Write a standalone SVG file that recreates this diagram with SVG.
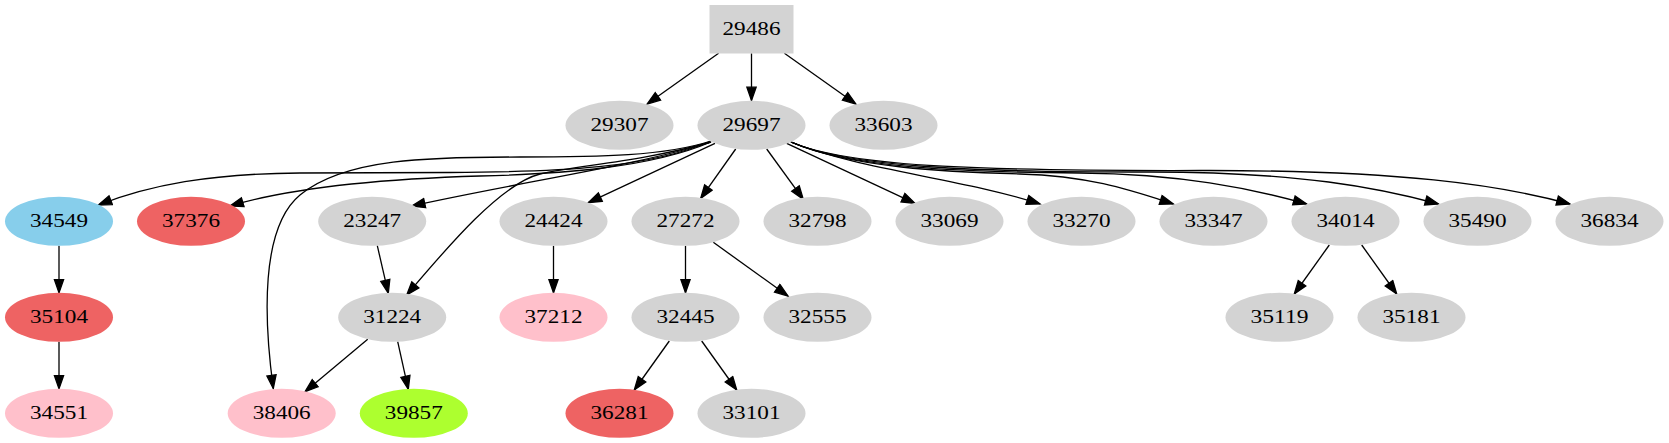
<svg xmlns="http://www.w3.org/2000/svg" width="1669" height="443" viewBox="0 0 1669 443">
<defs>
<style>
.n{stroke:none}
.g{fill:#d3d3d3}
.r{fill:#ee6363}
.p{fill:#ffc0cb}
.b{fill:#87ceeb}
.y{fill:#adff2f}
text{font-family:"Liberation Serif","Times New Roman",serif;font-size:19px;text-anchor:middle;fill:#000}
#edges path{fill:none;stroke:#000;stroke-width:1.3;marker-end:url(#ah)}
</style>
<marker id="ah" markerUnits="userSpaceOnUse" markerWidth="16" markerHeight="12" viewBox="-1 -1 16 12" refX="13.3" refY="4.65" orient="auto">
<path d="M0,0 L13.3,4.65 L0,9.3 z" fill="#000" stroke="#000" stroke-width="1.3"/>
</marker>
</defs>
<rect width="1669" height="443" fill="#fff"/>
<g id="edges">
<path d="M718.6,53.3 L647.1,104"/>
<path d="M751.5,53.3 L751.5,100.5"/>
<path d="M784.4,53.3 L855.9,104"/>
<path d="M711,141 C665,156 600,157 520,157 C430,157 345,158 300,195 C260,228 264,320 273.3,388.5"/>
<path d="M711,141 C650,168 560,172 450,172.5 L300,173 C210,173.5 150,185 98.3,205"/>
<path d="M711,142 C650,168 560,174 480,176 C380,179 290,188 230,206"/>
<path d="M711,142 C640,165 520,182 411.7,206"/>
<path d="M711,142 C640,162 580,165 540,174 C500,184 445,250 406.7,295"/>
<path d="M715,143.3 L588.3,202.7"/>
<path d="M735.7,149 L700.7,198.3"/>
<path d="M766.7,149 L803.3,199.3"/>
<path d="M786.7,143.3 L915,203.3"/>
<path d="M791,142 C860,170 960,178 1040,204"/>
<path d="M791,142 C850,168 950,172 1020,174 C1090,176 1130,190 1173.3,204"/>
<path d="M791,142 C850,168 960,172 1080,173 C1180,174 1250,188 1306.7,204"/>
<path d="M791,142 C850,168 980,172 1150,172 C1300,172 1380,188 1438.5,204"/>
<path d="M791,142 C850,168 1000,171 1200,170.5 C1400,170 1500,185 1570,204"/>
<path d="M59,245.8 L59,292.8"/>
<path d="M59,341.8 L59,388.8"/>
<path d="M377.3,245.7 L388.3,293.3"/>
<path d="M367.7,339.3 L305,391.7"/>
<path d="M397.7,341.7 L408.3,389.3"/>
<path d="M553.5,245.8 L553.5,292.8"/>
<path d="M685.5,245.8 L685.5,292.8"/>
<path d="M713.3,242.3 L788,296"/>
<path d="M669.3,341 L634.3,390"/>
<path d="M701.7,341 L736.7,390"/>
<path d="M1329.3,245 L1294.3,294"/>
<path d="M1361.7,245 L1396.7,294"/>
</g>
<g id="n29486"><rect class="n g" x="709.5" y="5" width="84" height="48.5"/><text x="751.5" y="34.5" textLength="58" lengthAdjust="spacingAndGlyphs">29486</text></g>
<g id="n29307"><ellipse class="n g" cx="619.5" cy="125.3" rx="54" ry="24.5"/><text x="619.5" y="130.5" textLength="58" lengthAdjust="spacingAndGlyphs">29307</text></g>
<g id="n29697"><ellipse class="n g" cx="751.5" cy="125.3" rx="54" ry="24.5"/><text x="751.5" y="130.5" textLength="58" lengthAdjust="spacingAndGlyphs">29697</text></g>
<g id="n33603"><ellipse class="n g" cx="883.5" cy="125.3" rx="54" ry="24.5"/><text x="883.5" y="130.5" textLength="58" lengthAdjust="spacingAndGlyphs">33603</text></g>
<g id="n34549"><ellipse class="n b" cx="59" cy="221.3" rx="54" ry="24.5"/><text x="59" y="226.5" textLength="58" lengthAdjust="spacingAndGlyphs">34549</text></g>
<g id="n37376"><ellipse class="n r" cx="191" cy="221.3" rx="54" ry="24.5"/><text x="191" y="226.5" textLength="58" lengthAdjust="spacingAndGlyphs">37376</text></g>
<g id="n23247"><ellipse class="n g" cx="372.2" cy="221.3" rx="54" ry="24.5"/><text x="372.2" y="226.5" textLength="58" lengthAdjust="spacingAndGlyphs">23247</text></g>
<g id="n24424"><ellipse class="n g" cx="553.5" cy="221.3" rx="54" ry="24.5"/><text x="553.5" y="226.5" textLength="58" lengthAdjust="spacingAndGlyphs">24424</text></g>
<g id="n27272"><ellipse class="n g" cx="685.5" cy="221.3" rx="54" ry="24.5"/><text x="685.5" y="226.5" textLength="58" lengthAdjust="spacingAndGlyphs">27272</text></g>
<g id="n32798"><ellipse class="n g" cx="817.5" cy="221.3" rx="54" ry="24.5"/><text x="817.5" y="226.5" textLength="58" lengthAdjust="spacingAndGlyphs">32798</text></g>
<g id="n33069"><ellipse class="n g" cx="949.5" cy="221.3" rx="54" ry="24.5"/><text x="949.5" y="226.5" textLength="58" lengthAdjust="spacingAndGlyphs">33069</text></g>
<g id="n33270"><ellipse class="n g" cx="1081.5" cy="221.3" rx="54" ry="24.5"/><text x="1081.5" y="226.5" textLength="58" lengthAdjust="spacingAndGlyphs">33270</text></g>
<g id="n33347"><ellipse class="n g" cx="1213.5" cy="221.3" rx="54" ry="24.5"/><text x="1213.5" y="226.5" textLength="58" lengthAdjust="spacingAndGlyphs">33347</text></g>
<g id="n34014"><ellipse class="n g" cx="1345.5" cy="221.3" rx="54" ry="24.5"/><text x="1345.5" y="226.5" textLength="58" lengthAdjust="spacingAndGlyphs">34014</text></g>
<g id="n35490"><ellipse class="n g" cx="1477.5" cy="221.3" rx="54" ry="24.5"/><text x="1477.5" y="226.5" textLength="58" lengthAdjust="spacingAndGlyphs">35490</text></g>
<g id="n36834"><ellipse class="n g" cx="1609.5" cy="221.3" rx="54" ry="24.5"/><text x="1609.5" y="226.5" textLength="58" lengthAdjust="spacingAndGlyphs">36834</text></g>
<g id="n35104"><ellipse class="n r" cx="59" cy="317.3" rx="54" ry="24.5"/><text x="59" y="322.5" textLength="58" lengthAdjust="spacingAndGlyphs">35104</text></g>
<g id="n31224"><ellipse class="n g" cx="392.2" cy="317.3" rx="54" ry="24.5"/><text x="392.2" y="322.5" textLength="58" lengthAdjust="spacingAndGlyphs">31224</text></g>
<g id="n37212"><ellipse class="n p" cx="553.5" cy="317.3" rx="54" ry="24.5"/><text x="553.5" y="322.5" textLength="58" lengthAdjust="spacingAndGlyphs">37212</text></g>
<g id="n32445"><ellipse class="n g" cx="685.5" cy="317.3" rx="54" ry="24.5"/><text x="685.5" y="322.5" textLength="58" lengthAdjust="spacingAndGlyphs">32445</text></g>
<g id="n32555"><ellipse class="n g" cx="817.5" cy="317.3" rx="54" ry="24.5"/><text x="817.5" y="322.5" textLength="58" lengthAdjust="spacingAndGlyphs">32555</text></g>
<g id="n35119"><ellipse class="n g" cx="1279.5" cy="317.3" rx="54" ry="24.5"/><text x="1279.5" y="322.5" textLength="58" lengthAdjust="spacingAndGlyphs">35119</text></g>
<g id="n35181"><ellipse class="n g" cx="1411.5" cy="317.3" rx="54" ry="24.5"/><text x="1411.5" y="322.5" textLength="58" lengthAdjust="spacingAndGlyphs">35181</text></g>
<g id="n34551"><ellipse class="n p" cx="59" cy="413.3" rx="54" ry="24.5"/><text x="59" y="418.5" textLength="58" lengthAdjust="spacingAndGlyphs">34551</text></g>
<g id="n38406"><ellipse class="n p" cx="281.7" cy="413.3" rx="54" ry="24.5"/><text x="281.7" y="418.5" textLength="58" lengthAdjust="spacingAndGlyphs">38406</text></g>
<g id="n39857"><ellipse class="n y" cx="413.8" cy="413.3" rx="54" ry="24.5"/><text x="413.8" y="418.5" textLength="58" lengthAdjust="spacingAndGlyphs">39857</text></g>
<g id="n36281"><ellipse class="n r" cx="619.5" cy="413.3" rx="54" ry="24.5"/><text x="619.5" y="418.5" textLength="58" lengthAdjust="spacingAndGlyphs">36281</text></g>
<g id="n33101"><ellipse class="n g" cx="751.5" cy="413.3" rx="54" ry="24.5"/><text x="751.5" y="418.5" textLength="58" lengthAdjust="spacingAndGlyphs">33101</text></g>
</svg>
